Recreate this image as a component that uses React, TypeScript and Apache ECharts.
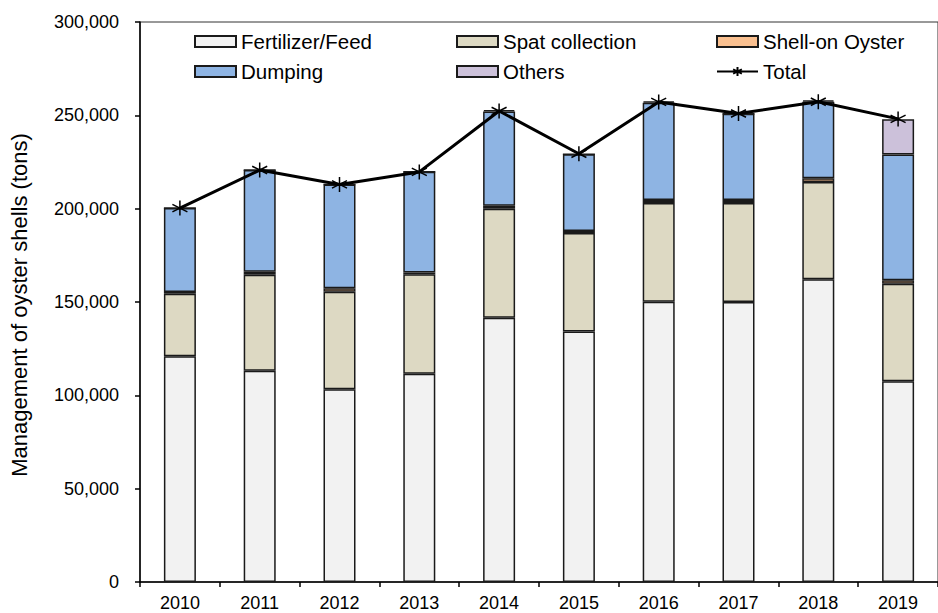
import React, { useEffect, useRef } from "react";
import * as echarts from "echarts";

const years = ["2010", "2011", "2012", "2013", "2014", "2015", "2016", "2017", "2018", "2019"];
const fertilizerFeed = [121000, 113200, 103200, 111600, 141500, 134200, 150100, 150000, 162200, 107500];
const spatCollection = [33400, 51400, 52300, 53200, 58500, 52800, 53000, 53000, 52100, 52300];
const shellOnOyster = [1000, 1600, 1800, 1000, 1500, 1000, 1600, 1600, 2000, 1800];
const dumping = [45000, 54500, 55700, 54000, 50500, 41200, 52100, 46300, 41000, 67400];
const others = [0, 0, 0, 0, 800, 0, 800, 0, 800, 18900];
const total = [200300, 220700, 213000, 219700, 252300, 229400, 257200, 251000, 257300, 248100];

const FONT = "'Liberation Sans', Arial, sans-serif";
const ASTERISK = "path://M0,-10L0,10M-8.66,-5L8.66,5M-8.66,5L8.66,-5";

export default function App() {
  const ref = useRef<HTMLDivElement>(null);
  useEffect(() => {
    if (!ref.current) return;
    const chart = echarts.init(ref.current, undefined, { renderer: "svg" });
    const barBase = (name: string, data: number[], color: string) => ({
      name,
      type: "bar",
      stack: "total",
      data,
      barWidth: 32,
      itemStyle: { color, borderColor: "#1a1a1a", borderWidth: 1.5 },
      emphasis: { disabled: true },
    });
    const legendCommon = {
      orient: "vertical",
      itemWidth: 41,
      itemHeight: 11,
      itemGap: 9,
      top: 26,
      textStyle: { fontFamily: FONT, fontSize: 20.5, color: "#000" },
      selectedMode: false,
    };
    chart.setOption({
      animation: false,
      backgroundColor: "#fff",
      textStyle: { fontFamily: FONT },
      grid: { left: 140, top: 22, width: 807.5, height: 560, show: true, borderColor: "#333", borderWidth: 1 },
      legend: [
        { ...legendCommon, left: 189, data: [{ name: "Fertilizer/Feed", icon: "rect" }, { name: "Dumping", icon: "rect" }] },
        { ...legendCommon, left: 451, data: [{ name: "Spat collection", icon: "rect" }, { name: "Others", icon: "rect" }] },
        { ...legendCommon, left: 711, data: [{ name: "Shell-on Oyster", icon: "rect" }, { name: "Total" }] },
      ],
      xAxis: {
        type: "category",
        data: years,
        boundaryGap: true,
        axisLine: { lineStyle: { color: "#000", width: 1.5 } },
        axisTick: { show: true, length: 5, alignWithLabel: false, lineStyle: { color: "#000", width: 1.5 } },
        axisLabel: { fontFamily: FONT, fontSize: 18, color: "#000", margin: 12 },
      },
      yAxis: {
        type: "value",
        min: 0,
        max: 300000,
        interval: 50000,
        splitLine: { show: false },
        axisLine: { show: true, lineStyle: { color: "#000", width: 1.5 } },
        axisTick: { show: true, length: 5, lineStyle: { color: "#000", width: 1.5 } },
        axisLabel: {
          fontFamily: FONT,
          fontSize: 18,
          color: "#000",
          margin: 21,
          formatter: (v: number) => v.toLocaleString("en-US"),
        },
      },
      graphic: [
        {
          type: "text",
          x: 19,
          y: 305,
          rotation: Math.PI / 2,
          style: {
            text: "Management of oyster shells (tons)",
            fontFamily: FONT,
            fontSize: 22,
            fill: "#000",
            align: "center",
            verticalAlign: "middle",
          },
        },
      ],
      series: [
        barBase("Fertilizer/Feed", fertilizerFeed, "#F2F2F2"),
        barBase("Spat collection", spatCollection, "#DDD9C3"),
        barBase("Shell-on Oyster", shellOnOyster, "#FAC090"),
        barBase("Dumping", dumping, "#8EB4E3"),
        barBase("Others", others, "#CCC1DA"),
        {
          name: "Total",
          type: "line",
          data: total,
          symbol: ASTERISK,
          symbolSize: 15,
          z: 10,
          lineStyle: { color: "#000", width: 3 },
          itemStyle: { color: "#000", borderColor: "#000", borderWidth: 1.5 },
          emphasis: { disabled: true },
        },
      ],
    });
    return () => chart.dispose();
  }, []);
  return (
    <div
      ref={ref}
      style={{ position: "fixed", left: 0, top: 0, width: 938, height: 613, background: "#fff" }}
    />
  );
}
